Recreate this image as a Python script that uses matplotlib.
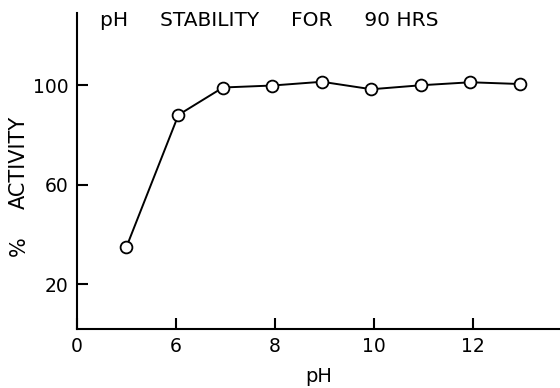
import matplotlib.pyplot as plt

# pH values and % activity after 90 hrs
ph = [5.0, 6.05, 6.95, 7.95, 8.95, 9.95, 10.95, 11.95, 12.95]
activity = [35, 88, 99, 99.8, 101.3, 98.3, 99.9, 101.1, 100.4]

xticks = [4, 6, 8, 10, 12]
xtick_labels = ["0", "6", "8", "10", "12"]
yticks = [20, 60, 100]

fig = plt.figure(figsize=(5.6, 3.88), dpi=100)
ax = fig.add_axes([0.1375, 0.152, 0.8625, 0.815])

# Plot the data
ax.plot(ph, activity, color="black", lw=1.4, marker="o", markersize=8.5,
        markerfacecolor="white", markeredgecolor="black", markeredgewidth=1.3)

ax.set_xlim(4, 13.76)
ax.set_ylim(2, 129)
ax.set_xticks(xticks)
ax.set_xticklabels(xtick_labels)
ax.set_yticks(yticks)

for side in ["top", "right"]:
    ax.spines[side].set_visible(False)
for side in ["left", "bottom"]:
    ax.spines[side].set_linewidth(1.5)

ax.tick_params(direction="in", length=8, width=1.5, labelsize=13.5, pad=6)

# Title, spread out like the original lettering
ax.text(4.46, 126, "pH     STABILITY     FOR     90 HRS", fontsize=14.5,
        va="center", ha="left")

ax.set_xlabel("pH", fontsize=14, labelpad=8)

# y label in two pieces to get the wide spacing
fig.text(0.033, 1 - 162 / 388, "ACTIVITY", fontsize=15, rotation=90,
         ha="center", va="center")
fig.text(0.033, 1 - 246 / 388, "%", fontsize=15, rotation=90,
         ha="center", va="center")

fig.savefig("out.png", dpi=100)
